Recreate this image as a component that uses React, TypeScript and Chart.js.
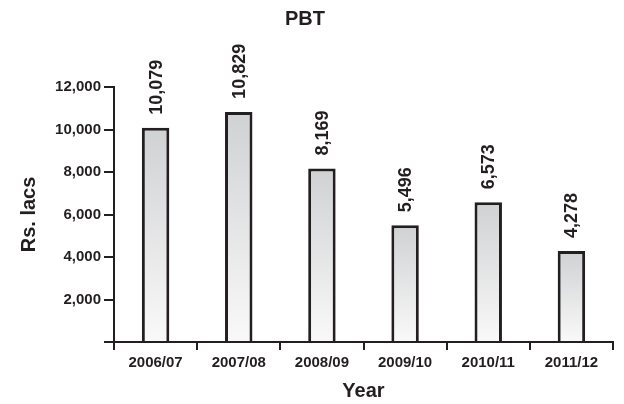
import React, { useEffect, useRef } from "react";
import { Chart, registerables } from "chart.js";

Chart.register(...registerables);

const years = ["2006/07", "2007/08", "2008/09", "2009/10", "2010/11", "2011/12"];
const pbt = [10079, 10829, 8169, 5496, 6573, 4278];
const yTicks = [0, 2000, 4000, 6000, 8000, 10000, 12000];

const FONT = "'Liberation Sans', Arial, Helvetica, sans-serif";
const INK = "#231f20";

const titlePlugin = {
  id: "centerTitle",
  afterDraw(chart: any) {
    const ctx = chart.ctx;
    ctx.save();
    ctx.font = `bold 20px ${FONT}`;
    ctx.fillStyle = INK;
    ctx.textAlign = "center";
    ctx.textBaseline = "middle";
    ctx.fillText("PBT", 297, 11);
    ctx.restore();
  },
};

const valueLabels = {
  id: "valueLabels",
  afterDatasetsDraw(chart: any) {
    const ctx = chart.ctx;
    const meta = chart.getDatasetMeta(0);
    ctx.save();
    ctx.font = `bold 18px ${FONT}`;
    ctx.fillStyle = INK;
    meta.data.forEach((bar: any, i: number) => {
      ctx.save();
      ctx.translate(bar.x, bar.y - 13);
      ctx.rotate(-Math.PI / 2);
      ctx.textAlign = "left";
      ctx.textBaseline = "middle";
      ctx.fillText(pbt[i].toLocaleString("en-US"), 0, 1);
      ctx.restore();
    });
    ctx.restore();
  },
};

export default function App() {
  const ref = useRef<HTMLCanvasElement>(null);

  useEffect(() => {
    if (!ref.current) return;
    const chart = new Chart(ref.current, {
      type: "bar",
      data: {
        labels: years,
        datasets: [
          {
            label: "PBT",
            data: pbt,
            backgroundColor: (c: any) => {
              const ch = c.chart;
              const area = ch.chartArea;
              const ys = ch.scales && ch.scales.y;
              if (!area || !ys || c.raw == null) return "#e2e3e4";
              const top = ys.getPixelForValue(c.raw);
              const g = ch.ctx.createLinearGradient(0, top, 0, area.bottom);
              g.addColorStop(0, "#d0d1d3");
              g.addColorStop(1, "#f9f9f9");
              return g;
            },
            borderColor: INK,
            borderWidth: 3,
            categoryPercentage: 1,
            barPercentage: 0.33,
          },
        ],
      },
      options: {
        responsive: true,
        maintainAspectRatio: false,
        animation: false,
        layout: { padding: { top: 79, right: 3, left: 0, bottom: 0 } },
        plugins: {
          legend: { display: false },
          title: { display: false },
          tooltip: { enabled: false },
        },
        scales: {
          x: {
            afterFit: (s: any) => {
              s.height = 62;
            },
            grid: {
              display: true,
              offset: true,
              drawOnChartArea: false,
              drawTicks: true,
              tickLength: 8,
              color: INK,
              lineWidth: 2,
            },
            border: { display: true, color: INK, width: 2 },
            ticks: {
              color: INK,
              padding: 4,
              font: { family: FONT, size: 15, weight: "bold" },
              maxRotation: 0,
            },
            title: {
              display: true,
              text: "Year",
              color: INK,
              font: { family: FONT, size: 20, weight: "bold" },
              padding: { top: 0, bottom: 1 },
            },
          },
          y: {
            min: 0,
            max: 12000,
            afterFit: (s: any) => {
              s.width = 106;
            },
            afterBuildTicks: (s: any) => {
              s.ticks = yTicks.map((v) => ({ value: v }));
            },
            grid: {
              display: true,
              drawOnChartArea: false,
              drawTicks: true,
              tickLength: 10,
              color: INK,
              lineWidth: 2,
            },
            border: { display: true, color: INK, width: 2 },
            ticks: {
              color: INK,
              padding: 3,
              font: { family: FONT, size: 15, weight: "bold" },
              callback: (v: any) => (v === 0 ? "" : Number(v).toLocaleString("en-US")),
            },
            title: {
              display: true,
              text: "Rs. lacs",
              color: INK,
              font: { family: FONT, size: 20, weight: "bold" },
              padding: { top: 9, bottom: 0 },
            },
          },
        },
      },
      plugins: [titlePlugin, valueLabels],
    });
    return () => chart.destroy();
  }, []);

  return (
    <div style={{ width: 608, height: 396, position: "relative" }}>
      <canvas ref={ref} />
    </div>
  );
}
